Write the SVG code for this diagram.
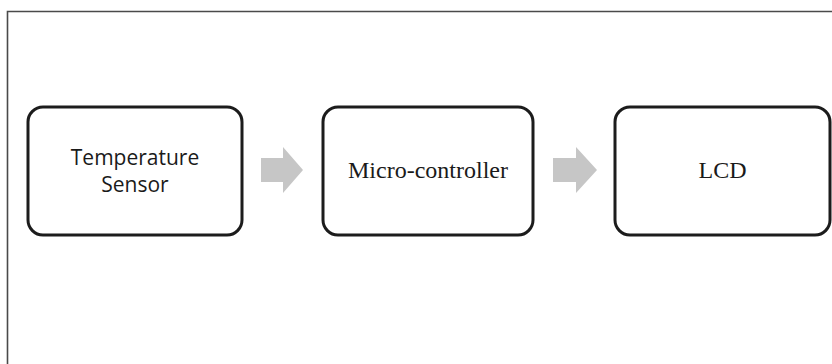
<svg xmlns="http://www.w3.org/2000/svg" width="832" height="364" viewBox="0 0 832 364">
  <style>
    .box { fill: #ffffff; stroke: #1c1c1c; stroke-width: 3; }
    .arrow { fill: #c6c6c6; stroke: none; }
    .sans { font-family: "Open Sans", "Liberation Sans", sans-serif; font-size: 21px; fill: #1a1a1a; text-anchor: middle; }
    .serif { font-family: "Liberation Serif", "Times New Roman", serif; font-size: 24px; fill: #1a1a1a; text-anchor: middle; }
  </style>
  <rect width="832" height="364" fill="#ffffff"/>
  <!-- frame: top and left edges only -->
  <path d="M7.5 364 V11.5 H832" fill="none" stroke="#4a4a4a" stroke-width="1.6"/>

  <g id="connectors">
    <path class="arrow" d="M261 158 H283 V147 L303 170 L283 193 V182 H261 Z"/>
    <path class="arrow" d="M553 158 H576 V147 L597 170 L576 193 V182 H553 Z"/>
  </g>

  <g id="temperature-sensor">
    <rect class="box" x="28" y="107" width="214" height="128" rx="15"/>
    <text class="sans" x="135" y="165">Temperature</text>
    <text class="sans" x="135" y="192">Sensor</text>
  </g>

  <g id="micro-controller">
    <rect class="box" x="323" y="107" width="210" height="128" rx="15"/>
    <text class="serif" x="428" y="178">Micro-controller</text>
  </g>

  <g id="lcd">
    <rect class="box" x="615" y="107" width="215" height="128" rx="15"/>
    <text class="serif" x="722.5" y="178">LCD</text>
  </g>
</svg>
